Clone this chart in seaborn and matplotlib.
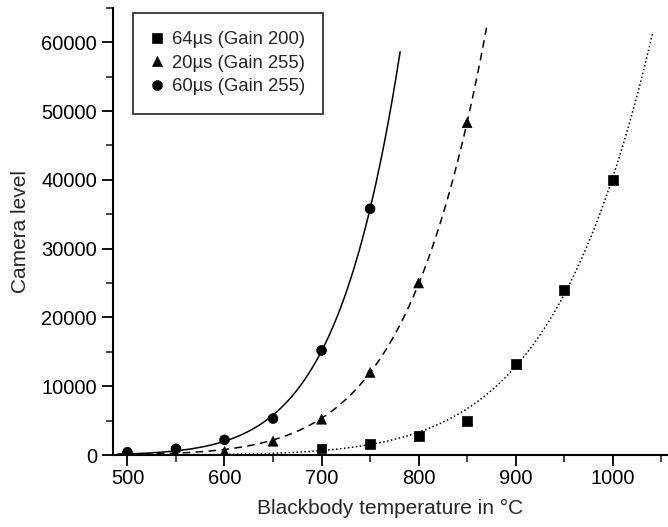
import numpy as np
import pandas as pd
import matplotlib
matplotlib.use("Agg")
import matplotlib.pyplot as plt
import seaborn as sns
from matplotlib.ticker import MultipleLocator

# Data
series_names = ["64\u00b5s (Gain 200)", "20\u00b5s (Gain 255)", "60\u00b5s (Gain 255)"]

t_64 = [700, 750, 800, 850, 900, 950, 1000]
v_64 = [950, 1600, 2800, 5000, 13250, 24000, 40000]

t_20 = [600, 650, 700, 750, 800, 850]
v_20 = [500, 2000, 5200, 12000, 25000, 48300]

t_60 = [500, 550, 600, 650, 700, 750]
v_60 = [400, 900, 2200, 5300, 15200, 35800]

fit_start = [490, 490, 490]
fit_end = [1041, 870, 781]

x_ticks = [500, 600, 700, 800, 900, 1000]
y_ticks = [0, 10000, 20000, 30000, 40000, 50000, 60000]

sns.set_style("ticks")
plt.rcParams["font.family"] = ["Liberation Sans", "DejaVu Sans"]

frames = []
for name, t, v in zip(series_names, [t_64, t_20, t_60], [v_64, v_20, v_60]):
    frames.append(pd.DataFrame({"T": t, "level": v, "series": name}))
df = pd.concat(frames, ignore_index=True)

# Wien-type fits of each series: log(level) linear in 1/T(K)
fit_frames = []
for name, t, v, a, b in zip(series_names, [t_64, t_20, t_60], [v_64, v_20, v_60], fit_start, fit_end):
    t = np.asarray(t, float)
    v = np.asarray(v, float)
    coef = np.polyfit(1.0 / (t + 273.15), np.log(v), 1, w=v)
    xs = np.linspace(a, b, 300)
    fit_frames.append(pd.DataFrame({"T": xs,
                                    "level": np.exp(np.polyval(coef, 1.0 / (xs + 273.15))),
                                    "series": name}))
fit_df = pd.concat(fit_frames, ignore_index=True)

fig = plt.figure(figsize=(6.68, 5.27), dpi=100)
ax = fig.add_axes([0.169, 0.1366, 0.831, 0.8484])

styles = {series_names[0]: (1, 1.6), series_names[1]: (5, 3.5), series_names[2]: ""}
sns.lineplot(data=fit_df, x="T", y="level", style="series", dashes=styles,
             color="black", linewidth=1.1, ax=ax, legend=False, sort=False)

markers = {series_names[0]: "s", series_names[1]: "^", series_names[2]: "o"}
sns.scatterplot(data=df, x="T", y="level", style="series", markers=markers,
                hue="series", palette=["black"] * 3, s=50, edgecolor="black",
                linewidth=0.5, ax=ax, zorder=5)

ax.set_xlim(485, 1057)
ax.set_ylim(0, 65000)
ax.set_xticks(x_ticks)
ax.set_yticks(y_ticks)
ax.xaxis.set_minor_locator(MultipleLocator(50))
ax.yaxis.set_minor_locator(MultipleLocator(5000))
ax.tick_params(which="major", direction="out", length=8, width=1.3, labelsize=14.5, colors="black")
ax.tick_params(axis="x", which="major", pad=2)
ax.tick_params(which="minor", direction="out", length=5, width=1.2)
for s in ["left", "bottom"]:
    ax.spines[s].set_linewidth(1.5)
    ax.spines[s].set_color("black")
sns.despine(ax=ax)

ax.set_xlabel("Blackbody temperature in \u00b0C", fontsize=15, labelpad=8)
ax.set_ylabel("Camera level", fontsize=15, labelpad=8)

handles, labels = ax.get_legend_handles_labels()
leg = ax.legend(handles, labels, loc="upper left", bbox_to_anchor=(0.036, 0.989),
                borderaxespad=0, fontsize=13.3, frameon=True, fancybox=False, edgecolor="black",
                borderpad=1.0, handlelength=0.6, handletextpad=0.5, labelspacing=0.35,
                markerscale=1.0)
leg.get_frame().set_linewidth(1.3)

fig.savefig("out.png", dpi=100)
